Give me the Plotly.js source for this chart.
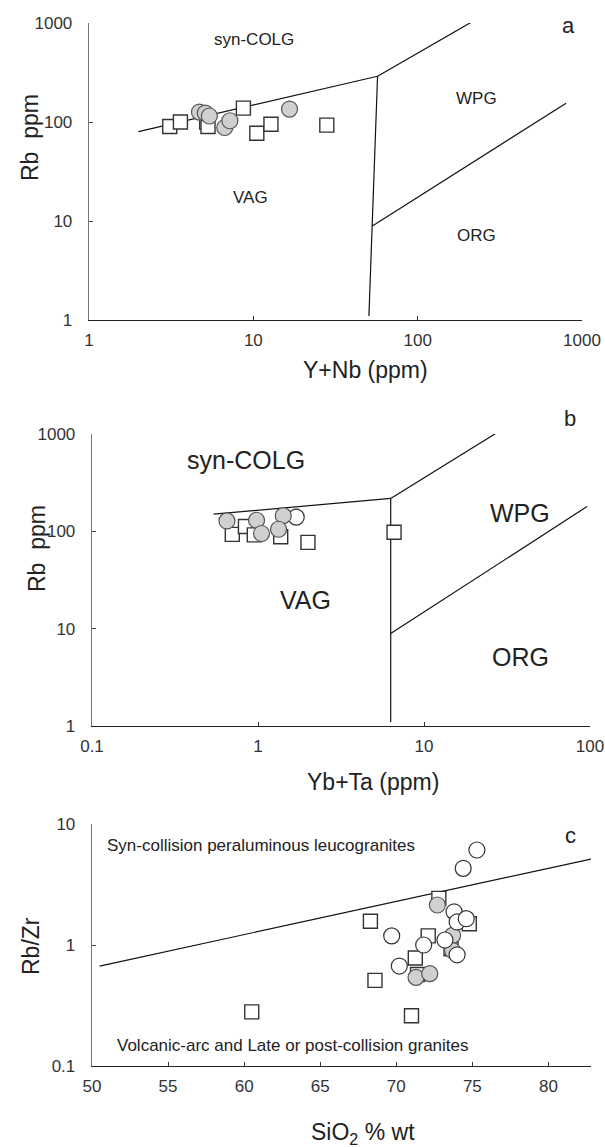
<!DOCTYPE html>
<html>
<head>
<meta charset="utf-8">
<script src="https://cdn.plot.ly/plotly-3.0.1.min.js"></script>
<style>html,body{margin:0;padding:0;background:#fff;}#chart{width:605px;height:1147px;}</style>
</head>
<body>
<div id="chart"></div>
<script>
// ---------- Panel a: Rb vs Y+Nb ----------
const aSquareX = [3.1, 3.6, 5.2, 5.3, 8.7, 10.5, 12.8, 28];
const aSquareY = [90, 100, 100, 90, 138, 77, 95, 93];
const aCircleX = [4.7, 5.1, 5.4, 6.7, 7.2, 16.6];
const aCircleY = [126, 123, 115, 88, 103, 135];
const aVagColX = [2, 57],    aVagColY = [80, 290];
const aColWpgX = [57, 265],  aColWpgY = [290, 1260];
const aVagWpgX = [50.5, 57], aVagWpgY = [1.1, 290];
const aWpgOrgX = [53, 800],  aWpgOrgY = [8.9, 155];

// ---------- Panel b: Rb vs Yb+Ta ----------
const bSquareX = [0.70, 0.84, 0.95, 1.37, 2.0, 6.6];
const bSquareY = [93, 112, 92, 88, 77, 98];
const bOpenX = [1.7];
const bOpenY = [140];
const bCircleX = [0.65, 0.98, 1.42, 1.33, 1.05];
const bCircleY = [128, 130, 145, 105, 95];
const bVagColX = [0.54, 6.3], bVagColY = [150, 218];
const bColWpgX = [6.3, 35],   bColWpgY = [218, 1330];
const bVagWpgX = [6.3, 6.3],  bVagWpgY = [1.1, 218];
const bWpgOrgX = [6.3, 96],   bWpgOrgY = [8.9, 180];

// ---------- Panel c: Rb/Zr vs SiO2 ----------
const cSquareX = [72.8, 74.8, 72.1, 73.6, 71.25, 71.4, 68.6, 68.3, 60.5, 71.0];
const cSquareY = [2.43, 1.5, 1.19, 0.93, 0.78, 0.57, 0.51, 1.57, 0.28, 0.26];
const cGrayX = [72.7, 73.7, 73.7, 71.3, 72.2];
const cGrayY = [2.14, 1.2, 0.9, 0.54, 0.58];
const cOpenX = [75.3, 74.4, 73.8, 74.0, 74.6, 69.7, 71.8, 73.2, 74.0, 70.2];
const cOpenY = [6.1, 4.3, 1.88, 1.55, 1.65, 1.19, 1.0, 1.1, 0.83, 0.67];
const cLineX = [50.5, 82.8], cLineY = [0.67, 5.13];

const logTicksA = [1, 10, 100, 1000];
const logTicksB = [0.1, 1, 10, 100];
const logTicksC = [0.1, 1, 10];
const linTicksC = [50, 55, 60, 65, 70, 75, 80];

// ---------- styling ----------
const W = 605, H = 1147;
const FONT = 'Liberation Sans, Arial, Helvetica, sans-serif';
const px = v => v / W;
const py = v => 1 - v / H;

const sqMarker = {symbol: 'square', size: 14, color: '#ffffff', line: {color: '#333', width: 1.4}};
const grayMarker = {symbol: 'circle', size: 16, color: '#d0d0d0', line: {color: '#555', width: 1.2}};
const openMarker = {symbol: 'circle', size: 16, color: '#ffffff', line: {color: '#333', width: 1.2}};
const lineStyle = {color: '#111', width: 1.2};

function seg(x, y, xa, ya) {
  return {x, y, xaxis: xa, yaxis: ya, mode: 'lines', line: lineStyle, hoverinfo: 'skip', showlegend: false};
}
function pts(x, y, marker, xa, ya) {
  return {x, y, xaxis: xa, yaxis: ya, mode: 'markers', marker, showlegend: false};
}

const traces = [
  seg(aVagColX, aVagColY, 'x', 'y'), seg(aColWpgX, aColWpgY, 'x', 'y'),
  seg(aVagWpgX, aVagWpgY, 'x', 'y'), seg(aWpgOrgX, aWpgOrgY, 'x', 'y'),
  pts(aSquareX, aSquareY, sqMarker, 'x', 'y'),
  pts(aCircleX, aCircleY, grayMarker, 'x', 'y'),

  seg(bVagColX, bVagColY, 'x2', 'y2'), seg(bColWpgX, bColWpgY, 'x2', 'y2'),
  seg(bVagWpgX, bVagWpgY, 'x2', 'y2'), seg(bWpgOrgX, bWpgOrgY, 'x2', 'y2'),
  pts(bSquareX, bSquareY, sqMarker, 'x2', 'y2'),
  pts(bOpenX, bOpenY, openMarker, 'x2', 'y2'),
  pts(bCircleX, bCircleY, grayMarker, 'x2', 'y2'),

  seg(cLineX, cLineY, 'x3', 'y3'),
  pts(cSquareX, cSquareY, sqMarker, 'x3', 'y3'),
  pts(cGrayX, cGrayY, grayMarker, 'x3', 'y3'),
  pts(cOpenX, cOpenY, openMarker, 'x3', 'y3')
];

function xAxis(domain, type, range, vals, anchor) {
  return {
    domain, type, range, anchor,
    tickmode: 'array', tickvals: vals, ticktext: vals.map(String),
    showline: true, linecolor: '#222', linewidth: 1.3,
    ticks: 'inside', ticklen: 4, tickcolor: '#333', tickwidth: 1,
    showgrid: false, zeroline: false, ticklabelstandoff: 4,
    tickfont: {family: FONT, size: 17, color: '#333'}
  };
}
function yAxis(domain, range, vals, anchor) {
  return {
    domain, type: 'log', range, anchor,
    tickmode: 'array', tickvals: vals, ticktext: vals.map(String),
    showline: true, linecolor: '#777', linewidth: 1.3,
    ticks: 'inside', ticklen: 4, tickcolor: '#444', tickwidth: 1,
    showgrid: false, zeroline: false, ticklabelstandoff: 12,
    tickfont: {family: FONT, size: 17, color: '#333'}
  };
}

function ann(text, x, y, size, opts) {
  return Object.assign({
    text, x: px(x), y: py(y), xref: 'paper', yref: 'paper',
    showarrow: false, xanchor: 'center', yanchor: 'middle',
    font: {family: FONT, size, color: '#222'}
  }, opts || {});
}

const annotations = [
  // panel a
  ann('syn-COLG', 254, 39, 17),
  ann('WPG', 476, 98, 17),
  ann('VAG', 250, 198, 17),
  ann('ORG', 476, 235, 17),
  ann('a', 568, 25, 22),
  ann('Rb  ppm', 30, 138, 23, {textangle: -90}),
  ann('Y+Nb (ppm)', 365, 370, 23),
  // panel b
  ann('syn-COLG', 246, 460, 25),
  ann('WPG', 520, 513, 25),
  ann('VAG', 305, 600, 25),
  ann('ORG', 520, 657, 25),
  ann('b', 570, 418, 22),
  ann('Rb  ppm', 37, 549, 23, {textangle: -90}),
  ann('Yb+Ta (ppm)', 373, 782, 23),
  // panel c
  ann('Syn-collision peraluminous leucogranites', 105, 845, 17, {xanchor: 'left'}),
  ann('Volcanic-arc and Late or post-collision granites', 115, 1045, 17, {xanchor: 'left'}),
  ann('c', 570, 835, 22),
  ann('Rb/Zr', 31, 946, 23, {textangle: -90}),
  ann('SiO<sub>2</sub> % wt', 363, 1133, 23)
];

const layout = {
  width: W, height: H,
  margin: {l: 0, r: 0, t: 0, b: 0},
  paper_bgcolor: '#fff', plot_bgcolor: '#fff',
  showlegend: false,
  font: {family: FONT, color: '#222'},
  xaxis:  xAxis([px(89), px(582)], 'log', [0, 3], logTicksA, 'y'),
  yaxis:  yAxis([py(320), py(23)], [0, 3], logTicksA, 'x'),
  xaxis2: xAxis([px(92), px(590)], 'log', [-1, 2], logTicksB, 'y2'),
  yaxis2: yAxis([py(726), py(434)], [0, 3], logTicksA, 'x2'),
  xaxis3: xAxis([px(92), px(591)], 'linear', [50, 82.8], linTicksC, 'y3'),
  yaxis3: yAxis([py(1066), py(824)], [-1, 1], logTicksC, 'x3'),
  annotations
};

Plotly.newPlot('chart', traces, layout, {staticPlot: true, displayModeBar: false});
</script>
</body>
</html>
